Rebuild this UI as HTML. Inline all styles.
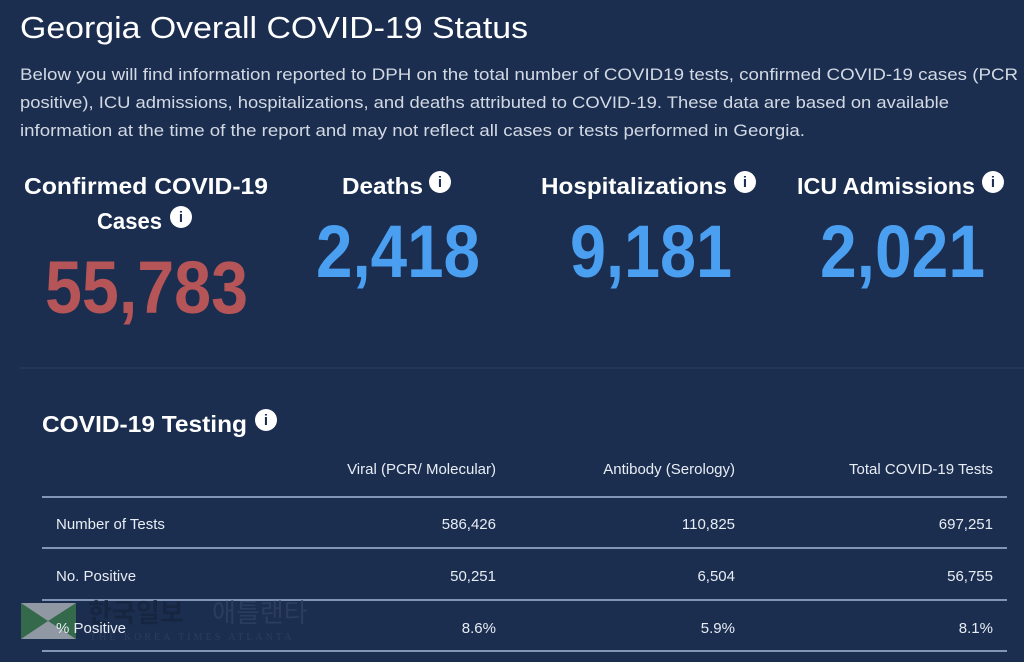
<!DOCTYPE html>
<html><head><meta charset="utf-8"><style>
html,body{margin:0;padding:0;background:#1b2e50;}
svg{display:block;font-family:"Liberation Sans","Noto Sans CJK KR",sans-serif;}
</style></head><body>
<svg width="1024" height="662" viewBox="0 0 1024 662" xmlns="http://www.w3.org/2000/svg">
<rect width="1024" height="662" fill="#1b2e50"/>
<text x="20" y="38" font-size="31" fill="#ffffff" textLength="508" lengthAdjust="spacingAndGlyphs">Georgia Overall COVID-19 Status</text>
<g font-size="17" fill="#d3d9e3">
<text x="20" y="80" textLength="998" lengthAdjust="spacingAndGlyphs">Below you will find information reported to DPH on the total number of COVID19 tests, confirmed COVID-19 cases (PCR</text>
<text x="20" y="108" textLength="929" lengthAdjust="spacingAndGlyphs">positive), ICU admissions, hospitalizations, and deaths attributed to COVID-19. These data are based on available</text>
<text x="20" y="136" textLength="785" lengthAdjust="spacingAndGlyphs">information at the time of the report and may not reflect all cases or tests performed in Georgia.</text>
</g>
<g font-size="23" font-weight="bold" fill="#ffffff">
<text x="24" y="194" textLength="244" lengthAdjust="spacingAndGlyphs">Confirmed COVID-19</text>
<text x="97" y="229" textLength="65" lengthAdjust="spacingAndGlyphs">Cases</text>
<text x="342" y="194" textLength="81" lengthAdjust="spacingAndGlyphs">Deaths</text>
<text x="541" y="194" textLength="186" lengthAdjust="spacingAndGlyphs">Hospitalizations</text>
<text x="797" y="194" textLength="178" lengthAdjust="spacingAndGlyphs">ICU Admissions</text>
<text x="42" y="432" textLength="205" lengthAdjust="spacingAndGlyphs">COVID-19 Testing</text>
</g>
<g>
<circle cx="181" cy="217" r="11" fill="#fff"/><circle cx="440" cy="182" r="11" fill="#fff"/>
<circle cx="745" cy="182" r="11" fill="#fff"/><circle cx="993" cy="182" r="11" fill="#fff"/>
<circle cx="266" cy="420" r="11" fill="#fff"/>
<g fill="#1b2e50" font-size="15" font-weight="bold" text-anchor="middle">
<text x="181" y="222">i</text><text x="440" y="187">i</text><text x="745" y="187">i</text><text x="993" y="187">i</text><text x="266" y="425">i</text>
</g></g>
<g font-weight="bold" font-size="74">
<text x="45" y="313" fill="#b65557" textLength="203" lengthAdjust="spacingAndGlyphs">55,783</text>
<text x="316" y="277" fill="#4b9ff0" textLength="164" lengthAdjust="spacingAndGlyphs">2,418</text>
<text x="570" y="277" fill="#4b9ff0" textLength="162" lengthAdjust="spacingAndGlyphs">9,181</text>
<text x="820" y="277" fill="#4b9ff0" textLength="165" lengthAdjust="spacingAndGlyphs">2,021</text>
</g>
<line x1="20" y1="368" x2="1024" y2="368" stroke="#2c4066" stroke-width="1"/>
<g font-size="15" fill="#e8edf4" text-anchor="end">
<text x="496" y="474">Viral (PCR/ Molecular)</text>
<text x="735" y="474">Antibody (Serology)</text>
<text x="993" y="474">Total COVID-19 Tests</text>
<text x="496" y="529">586,426</text><text x="735" y="529">110,825</text><text x="993" y="529">697,251</text>
<text x="496" y="581">50,251</text><text x="735" y="581">6,504</text><text x="993" y="581">56,755</text>
<text x="496" y="633">8.6%</text><text x="735" y="633">5.9%</text><text x="993" y="633">8.1%</text>
</g>
<g stroke="#a3b9d8" stroke-width="1.5">
<line x1="42" y1="497" x2="1007" y2="497"/><line x1="42" y1="548" x2="1007" y2="548"/>
<line x1="42" y1="600" x2="1007" y2="600"/><line x1="42" y1="651" x2="1007" y2="651"/>
</g>
<g opacity="0.75">
<rect x="21" y="603" width="55" height="36" fill="#b8bcc0"/>
<polygon points="21,603 48,621 21,639" fill="#3d7d4a"/><polygon points="76,603 48,621 76,639" fill="#3d7d4a"/>
</g>
<text x="88" y="622" font-size="26" font-weight="bold" fill="#16243d" opacity="0.8">한국일보</text>
<text x="212" y="622" font-size="26" fill="#2f4062" opacity="0.8">애틀랜타</text>
<text x="90" y="640" font-size="10" fill="#2c3c5c" letter-spacing="3" font-family="Liberation Serif,serif">THE KOREA TIMES ATLANTA</text>
<g font-size="15" fill="#e8edf4">
<text x="56" y="529">Number of Tests</text>
<text x="56" y="581">No. Positive</text>
<text x="56" y="633">% Positive</text>
</g>
</svg>
</body></html>
